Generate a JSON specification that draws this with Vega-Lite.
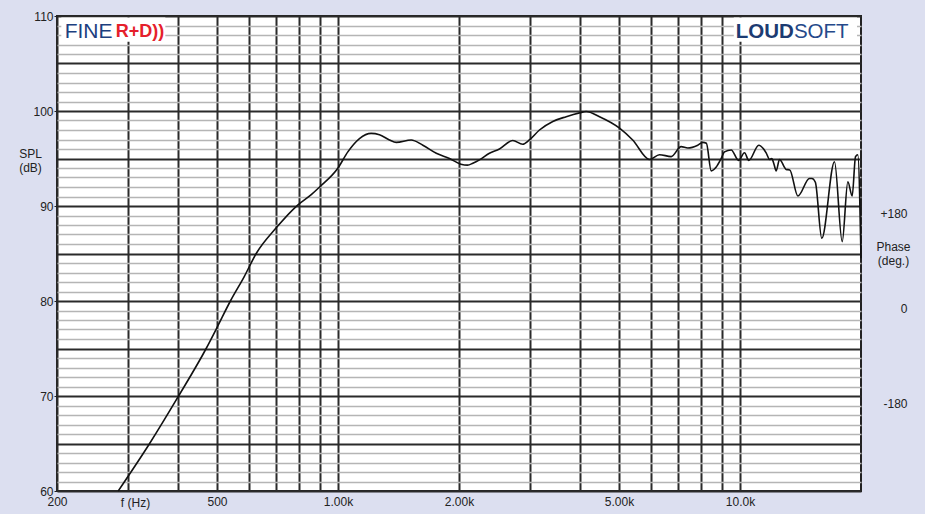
{
  "$schema": "https://vega.github.io/schema/vega-lite/v6.json",
  "width": 804,
  "height": 475,
  "autosize": {"type": "none"},
  "padding": {"left": 57, "top": 16, "right": 64, "bottom": 23},
  "background": "#dcdff0",
  "config": {
    "view": {"fill": "#ffffff", "stroke": "#222222", "strokeWidth": 2},
    "font": "Liberation Sans",
    "axis": {"labelFont": "Liberation Sans", "titleFont": "Liberation Sans", "labelFontSize": 12, "titleFontSize": 12, "labelColor": "#222222", "titleColor": "#222222", "titleFontWeight": "normal"}
  },
  "layer": [
    {
      "layer": [
        {
          "data": {"values": [
            {"freq": 284, "spl": 60.0}, {"freq": 340, "spl": 65.0}, {"freq": 400, "spl": 69.9}, {"freq": 470, "spl": 75.0},
            {"freq": 500, "spl": 77.2}, {"freq": 540, "spl": 80.0}, {"freq": 585, "spl": 82.6}, {"freq": 626, "spl": 85.0},
            {"freq": 702, "spl": 87.7}, {"freq": 794, "spl": 90.1}, {"freq": 858, "spl": 91.2}, {"freq": 900, "spl": 92.0},
            {"freq": 1000, "spl": 94.0}, {"freq": 1058, "spl": 95.7}, {"freq": 1131, "spl": 97.1}, {"freq": 1209, "spl": 97.65},
            {"freq": 1268, "spl": 97.5}, {"freq": 1343, "spl": 96.95}, {"freq": 1396, "spl": 96.7}, {"freq": 1521, "spl": 96.95},
            {"freq": 1626, "spl": 96.4}, {"freq": 1756, "spl": 95.55}, {"freq": 1894, "spl": 95.0}, {"freq": 2022, "spl": 94.4},
            {"freq": 2100, "spl": 94.3}, {"freq": 2165, "spl": 94.5}, {"freq": 2249, "spl": 94.85}, {"freq": 2381, "spl": 95.55},
            {"freq": 2521, "spl": 96.0}, {"freq": 2722, "spl": 96.9}, {"freq": 2880, "spl": 96.5}, {"freq": 2993, "spl": 96.95},
            {"freq": 3171, "spl": 98.0}, {"freq": 3423, "spl": 98.9}, {"freq": 3696, "spl": 99.4}, {"freq": 3989, "spl": 99.8},
            {"freq": 4143, "spl": 99.95}, {"freq": 4473, "spl": 99.4}, {"freq": 5016, "spl": 98.2}, {"freq": 5409, "spl": 96.95},
            {"freq": 5956, "spl": 94.9}, {"freq": 6305, "spl": 95.4}, {"freq": 6742, "spl": 95.2}, {"freq": 7139, "spl": 96.25},
            {"freq": 7415, "spl": 96.1}, {"freq": 7853, "spl": 96.4}, {"freq": 8084, "spl": 96.7}, {"freq": 8250, "spl": 96.6},
            {"freq": 8481, "spl": 93.7}, {"freq": 8729, "spl": 94.1}, {"freq": 8980, "spl": 95.0}, {"freq": 9152, "spl": 95.7},
            {"freq": 9510, "spl": 95.9}, {"freq": 9920, "spl": 94.8}, {"freq": 10263, "spl": 95.6}, {"freq": 10520, "spl": 94.8},
            {"freq": 11136, "spl": 96.4}, {"freq": 11617, "spl": 95.6}, {"freq": 11850, "spl": 94.9}, {"freq": 12000, "spl": 95.0},
            {"freq": 12150, "spl": 94.4}, {"freq": 12303, "spl": 93.7}, {"freq": 12541, "spl": 94.9}, {"freq": 13030, "spl": 93.85},
            {"freq": 13300, "spl": 93.8}, {"freq": 13929, "spl": 91.05}, {"freq": 14888, "spl": 92.9}, {"freq": 15100, "spl": 92.9},
            {"freq": 15400, "spl": 92.5}, {"freq": 15975, "spl": 86.6}, {"freq": 17183, "spl": 94.66}, {"freq": 17959, "spl": 86.25},
            {"freq": 18548, "spl": 92.55}, {"freq": 19014, "spl": 91.05}, {"freq": 19382, "spl": 95.2}, {"freq": 19634, "spl": 95.4},
            {"freq": 20000, "spl": 84.5}
          ]},
          "mark": {"type": "line", "color": "#111111", "strokeWidth": 1.6, "interpolate": "monotone"},
          "encoding": {
            "x": {
              "field": "freq", "type": "quantitative",
              "scale": {"type": "log", "domain": [200, 20000], "nice": false},
              "axis": {
                "values": [200, 300, 400, 500, 600, 700, 800, 900, 1000, 2000, 3000, 4000, 5000, 6000, 7000, 8000, 9000, 10000],
                "labelExpr": "datum.value == 200 ? '200' : datum.value == 500 ? '500' : datum.value == 1000 ? '1.00k' : datum.value == 2000 ? '2.00k' : datum.value == 5000 ? '5.00k' : datum.value == 10000 ? '10.0k' : ''",
                "labelOverlap": false, "labelFlush": false, "ticks": false, "labelPadding": 5, "labelBaseline": "top",
                "grid": true, "gridColor": "#2a2a2a", "gridWidth": 2, "domain": false,
                "title": "f (Hz)", "titleX": 78, "titleY": 6, "titleAlign": "center", "titleBaseline": "top", "titleAnchor": null
              }
            },
            "y": {
              "field": "spl", "type": "quantitative",
              "scale": {"domain": [60, 110], "nice": false, "zero": false},
              "axis": {
                "values": [60,61,62,63,64,65,66,67,68,69,70,71,72,73,74,75,76,77,78,79,80,81,82,83,84,85,86,87,88,89,90,91,92,93,94,95,96,97,98,99,100,101,102,103,104,105,106,107,108,109,110],
                "labelExpr": "datum.value % 10 === 0 ? '' + datum.value : ''",
                "labelOverlap": false, "labelBaseline": "middle", "labelPadding": 1,
                "grid": true,
                "gridColor": {"condition": {"test": "datum.value % 5 === 0", "value": "#2a2a2a"}, "value": "#b5b5b5"},
                "gridWidth": {"condition": {"test": "datum.value % 5 === 0", "value": 2}, "value": 1.5},
                "tickColor": {"condition": {"test": "datum.value % 10 === 0", "value": "#222222"}, "value": "transparent"},
                "tickSize": 3, "domain": false,
                "title": ["SPL", "(dB)"], "titleAngle": 0, "titleX": -27, "titleY": 132, "titleAlign": "center", "titleBaseline": "top", "titleLineHeight": 14, "titleAnchor": null
              }
            }
          }
        },
        {
          "data": {"values": [{"logo": "FINE R+D))"}]},
          "mark": {"type": "rect", "fill": "#ffffff"},
          "encoding": {
            "x": {"datum": 205, "type": "quantitative"},
            "x2": {"datum": 372},
            "y": {"datum": 109.85, "type": "quantitative", "axis": {
                "values": [60,61,62,63,64,65,66,67,68,69,70,71,72,73,74,75,76,77,78,79,80,81,82,83,84,85,86,87,88,89,90,91,92,93,94,95,96,97,98,99,100,101,102,103,104,105,106,107,108,109,110],
                "labelExpr": "datum.value % 10 === 0 ? '' + datum.value : ''",
                "labelOverlap": false, "labelBaseline": "middle", "labelPadding": 1,
                "grid": true,
                "gridColor": {"condition": {"test": "datum.value % 5 === 0", "value": "#2a2a2a"}, "value": "#b5b5b5"},
                "gridWidth": {"condition": {"test": "datum.value % 5 === 0", "value": 2}, "value": 1.5},
                "tickColor": {"condition": {"test": "datum.value % 10 === 0", "value": "#222222"}, "value": "transparent"},
                "tickSize": 3, "domain": false,
                "title": ["SPL", "(dB)"], "titleAngle": 0, "titleX": -27, "titleY": 132, "titleAlign": "center", "titleBaseline": "top", "titleLineHeight": 14, "titleAnchor": null
              }},
            "y2": {"datum": 107.3}
          }
        },
        {
          "data": {"values": [{"logo": "LOUDSOFT"}]},
          "mark": {"type": "rect", "fill": "#ffffff"},
          "encoding": {
            "x": {"datum": 9650, "type": "quantitative"},
            "x2": {"datum": 19550},
            "y": {"datum": 109.85, "type": "quantitative", "axis": {
                "values": [60,61,62,63,64,65,66,67,68,69,70,71,72,73,74,75,76,77,78,79,80,81,82,83,84,85,86,87,88,89,90,91,92,93,94,95,96,97,98,99,100,101,102,103,104,105,106,107,108,109,110],
                "labelExpr": "datum.value % 10 === 0 ? '' + datum.value : ''",
                "labelOverlap": false, "labelBaseline": "middle", "labelPadding": 1,
                "grid": true,
                "gridColor": {"condition": {"test": "datum.value % 5 === 0", "value": "#2a2a2a"}, "value": "#b5b5b5"},
                "gridWidth": {"condition": {"test": "datum.value % 5 === 0", "value": 2}, "value": 1.5},
                "tickColor": {"condition": {"test": "datum.value % 10 === 0", "value": "#222222"}, "value": "transparent"},
                "tickSize": 3, "domain": false,
                "title": ["SPL", "(dB)"], "titleAngle": 0, "titleX": -27, "titleY": 132, "titleAlign": "center", "titleBaseline": "top", "titleLineHeight": 14, "titleAnchor": null
              }},
            "y2": {"datum": 107.3}
          }
        },
        {
          "data": {"values": [{"part": "FINE"}]},
          "mark": {"type": "text", "font": "Liberation Sans", "fontSize": 21, "color": "#1c3f7f", "align": "left", "baseline": "middle"},
          "encoding": {
            "x": {"datum": 209, "type": "quantitative"},
            "y": {"datum": 108.3, "type": "quantitative", "axis": {
                "values": [60,61,62,63,64,65,66,67,68,69,70,71,72,73,74,75,76,77,78,79,80,81,82,83,84,85,86,87,88,89,90,91,92,93,94,95,96,97,98,99,100,101,102,103,104,105,106,107,108,109,110],
                "labelExpr": "datum.value % 10 === 0 ? '' + datum.value : ''",
                "labelOverlap": false, "labelBaseline": "middle", "labelPadding": 1,
                "grid": true,
                "gridColor": {"condition": {"test": "datum.value % 5 === 0", "value": "#2a2a2a"}, "value": "#b5b5b5"},
                "gridWidth": {"condition": {"test": "datum.value % 5 === 0", "value": 2}, "value": 1.5},
                "tickColor": {"condition": {"test": "datum.value % 10 === 0", "value": "#222222"}, "value": "transparent"},
                "tickSize": 3, "domain": false,
                "title": ["SPL", "(dB)"], "titleAngle": 0, "titleX": -27, "titleY": 132, "titleAlign": "center", "titleBaseline": "top", "titleLineHeight": 14, "titleAnchor": null
              }},
            "text": {"field": "part"}
          }
        },
        {
          "data": {"values": [{"part": "R+D))"}]},
          "mark": {"type": "text", "font": "Liberation Sans", "fontSize": 18, "fontWeight": "bold", "color": "#e5202b", "align": "left", "baseline": "middle"},
          "encoding": {
            "x": {"datum": 280, "type": "quantitative"},
            "y": {"datum": 108.3, "type": "quantitative", "axis": {
                "values": [60,61,62,63,64,65,66,67,68,69,70,71,72,73,74,75,76,77,78,79,80,81,82,83,84,85,86,87,88,89,90,91,92,93,94,95,96,97,98,99,100,101,102,103,104,105,106,107,108,109,110],
                "labelExpr": "datum.value % 10 === 0 ? '' + datum.value : ''",
                "labelOverlap": false, "labelBaseline": "middle", "labelPadding": 1,
                "grid": true,
                "gridColor": {"condition": {"test": "datum.value % 5 === 0", "value": "#2a2a2a"}, "value": "#b5b5b5"},
                "gridWidth": {"condition": {"test": "datum.value % 5 === 0", "value": 2}, "value": 1.5},
                "tickColor": {"condition": {"test": "datum.value % 10 === 0", "value": "#222222"}, "value": "transparent"},
                "tickSize": 3, "domain": false,
                "title": ["SPL", "(dB)"], "titleAngle": 0, "titleX": -27, "titleY": 132, "titleAlign": "center", "titleBaseline": "top", "titleLineHeight": 14, "titleAnchor": null
              }},
            "text": {"field": "part"}
          }
        },
        {
          "data": {"values": [{"part": "LOUD"}]},
          "mark": {"type": "text", "font": "Liberation Sans", "fontSize": 20.5, "fontWeight": "bold", "color": "#1c3b72", "align": "right", "baseline": "middle"},
          "encoding": {
            "x": {"datum": 13620, "type": "quantitative"},
            "y": {"datum": 108.3, "type": "quantitative", "axis": {
                "values": [60,61,62,63,64,65,66,67,68,69,70,71,72,73,74,75,76,77,78,79,80,81,82,83,84,85,86,87,88,89,90,91,92,93,94,95,96,97,98,99,100,101,102,103,104,105,106,107,108,109,110],
                "labelExpr": "datum.value % 10 === 0 ? '' + datum.value : ''",
                "labelOverlap": false, "labelBaseline": "middle", "labelPadding": 1,
                "grid": true,
                "gridColor": {"condition": {"test": "datum.value % 5 === 0", "value": "#2a2a2a"}, "value": "#b5b5b5"},
                "gridWidth": {"condition": {"test": "datum.value % 5 === 0", "value": 2}, "value": 1.5},
                "tickColor": {"condition": {"test": "datum.value % 10 === 0", "value": "#222222"}, "value": "transparent"},
                "tickSize": 3, "domain": false,
                "title": ["SPL", "(dB)"], "titleAngle": 0, "titleX": -27, "titleY": 132, "titleAlign": "center", "titleBaseline": "top", "titleLineHeight": 14, "titleAnchor": null
              }},
            "text": {"field": "part"}
          }
        },
        {
          "data": {"values": [{"part": "SOFT"}]},
          "mark": {"type": "text", "font": "Liberation Sans", "fontSize": 20.5, "color": "#25498a", "align": "left", "baseline": "middle"},
          "encoding": {
            "x": {"datum": 13620, "type": "quantitative"},
            "y": {"datum": 108.3, "type": "quantitative", "axis": {
                "values": [60,61,62,63,64,65,66,67,68,69,70,71,72,73,74,75,76,77,78,79,80,81,82,83,84,85,86,87,88,89,90,91,92,93,94,95,96,97,98,99,100,101,102,103,104,105,106,107,108,109,110],
                "labelExpr": "datum.value % 10 === 0 ? '' + datum.value : ''",
                "labelOverlap": false, "labelBaseline": "middle", "labelPadding": 1,
                "grid": true,
                "gridColor": {"condition": {"test": "datum.value % 5 === 0", "value": "#2a2a2a"}, "value": "#b5b5b5"},
                "gridWidth": {"condition": {"test": "datum.value % 5 === 0", "value": 2}, "value": 1.5},
                "tickColor": {"condition": {"test": "datum.value % 10 === 0", "value": "#222222"}, "value": "transparent"},
                "tickSize": 3, "domain": false,
                "title": ["SPL", "(dB)"], "titleAngle": 0, "titleX": -27, "titleY": 132, "titleAlign": "center", "titleBaseline": "top", "titleLineHeight": 14, "titleAnchor": null
              }},
            "text": {"field": "part"}
          }
        }
      ]
    },
    {
      "data": {"values": [{}]},
      "mark": {"type": "rule", "opacity": 0},
      "encoding": {
        "y": {
          "datum": 0, "type": "quantitative",
          "scale": {"domain": [-346, 554], "nice": false, "zero": false},
          "axis": {
            "orient": "right", "values": [-180, 0, 180],
            "labelExpr": "datum.value > 0 ? '+' + datum.value : '' + datum.value",
            "grid": false, "ticks": false, "domain": false, "labelAlign": "right", "labelPadding": 46, "labelBaseline": "middle",
            "title": ["Phase", "(deg.)"], "titleAngle": 0, "titleX": 32, "titleY": 225, "titleAlign": "center", "titleBaseline": "top", "titleLineHeight": 14, "titleAnchor": null
          }
        }
      }
    }
  ],
  "resolve": {"scale": {"y": "independent"}}
}
